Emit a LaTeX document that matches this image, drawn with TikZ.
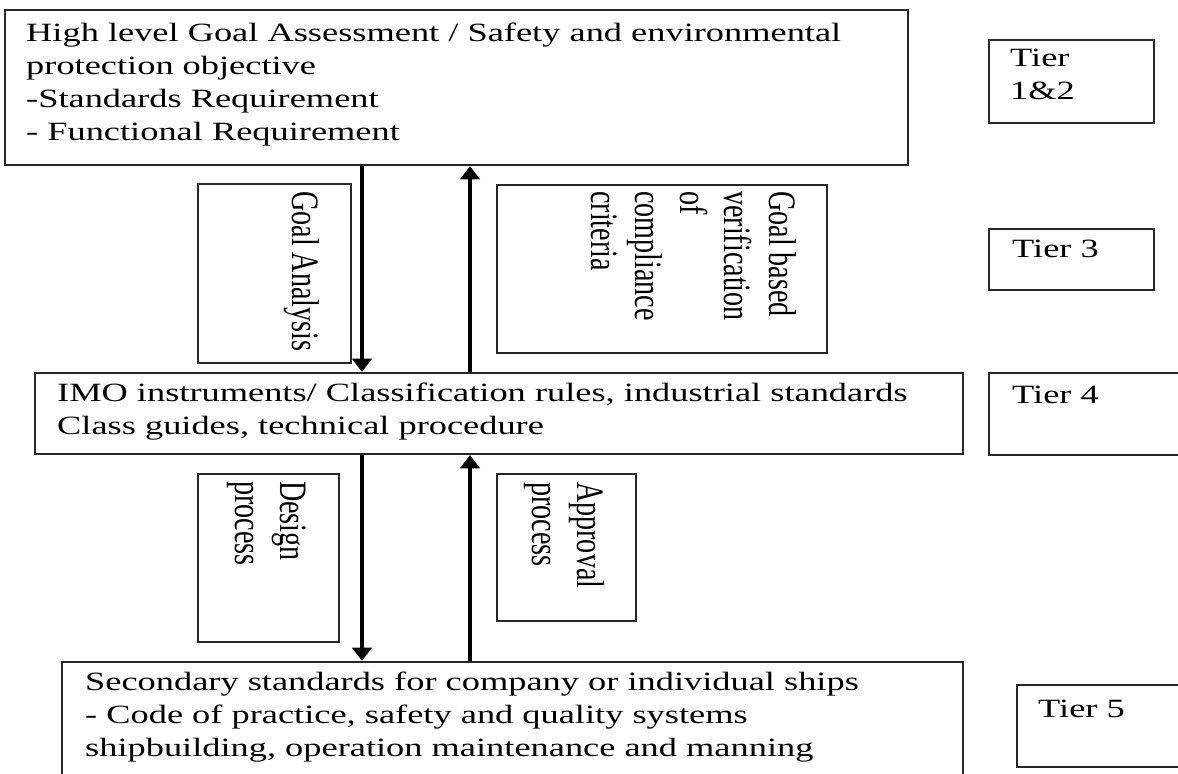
\documentclass[tikz,border=0pt]{standalone}
\usepackage{fontspec}
\setmainfont{Liberation Serif}[FakeStretch=1.38]
\newfontfamily\sideserif{Liberation Serif}
\usepackage{graphicx}
\usetikzlibrary{arrows.meta,fit}

\newcommand{\sidetext}[1]{\scalebox{1.38}[1]{\rotatebox{-90}{\sideserif\fontsize{16}{18.4}\selectfont\begin{tabular}{@{}l@{}}#1\end{tabular}}}}

\begin{document}
\begin{tikzpicture}[x=0.02cm, y=-0.02cm,
    frame/.style={draw=black!85, line width=1.3pt, inner sep=0pt},
    body/.style={anchor=north west, inner sep=0pt, align=left, font=\fontsize{15}{18.8}\selectfont},
    side/.style={anchor=north east, inner sep=0pt},
    flow/.style={line width=2.8pt, -{Triangle[length=7.5pt, width=11pt]}}]
    \path[use as bounding box, clip] (0,0) rectangle (1178,774);

    \node[frame, fit={(5,10) (908,165)}] (goal) {};
    \node[frame, fit={(35,373) (963,454)}] (imo) {};
    \node[frame, fit={(62,662) (963,800)}] (ship) {};

    \node[body] (goalText) at ([shift={(22,14)}]goal.north west) {High level Goal Assessment / Safety and environmental\\protection objective\\-Standards Requirement\\- Functional Requirement};
    \node[body] (imoText) at ([shift={(23,11)}]imo.north west) {IMO instruments/ Classification rules, industrial standards\\Class guides, technical procedure};
    \node[body] (shipText) at ([shift={(24,11)}]ship.north west) {Secondary standards for company or individual ships\\- Code of practice, safety and quality systems\\shipbuilding, operation maintenance and manning};

    \node[frame, fit={(989,40) (1154,123)}] (tierA) {};
    \node[frame, fit={(989,229) (1154,290)}] (tierB) {};
    \node[frame, fit={(989,373) (1200,455)}] (tierC) {};
    \node[frame, fit={(1017,685) (1200,767)}] (tierD) {};

    \node[body] (tierAText) at ([shift={(22,10)}]tierA.north west) {Tier\\1\&2};
    \node[body] (tierBText) at ([shift={(24,12)}]tierB.north west) {Tier 3};
    \node[body] (tierCText) at ([shift={(24,14)}]tierC.north west) {Tier 4};
    \node[body] (tierDText) at ([shift={(22,16)}]tierD.north west) {Tier 5};

    \node[frame, fit={(198,184) (351,363)}] (analysis) {};
    \node[frame, fit={(497,185) (827,353)}] (verify) {};
    \node[frame, fit={(198,474) (339,642)}] (design) {};
    \node[frame, fit={(497,474) (636,621)}] (approval) {};

    \node[side] (analysisText) at ([shift={(-28,8)}]analysis.north east) {\sidetext{Goal Analysis}};
    \node[side] (verifyText) at ([shift={(-27,7)}]verify.north east) {\sidetext{Goal based\\verification\\of\\compliance\\criteria}};
    \node[side] (designText) at ([shift={(-28,8)}]design.north east) {\sidetext{Design\\process}};
    \node[side] (approvalText) at ([shift={(-28,9)}]approval.north east) {\sidetext{Approval\\process}};

    \coordinate (downX) at (362,0);
    \coordinate (upX) at (470,0);

    \draw[flow] (downX |- goal.south) -- (downX |- imo.north);
    \draw[flow] (upX |- imo.north) -- (upX |- goal.south);
    \draw[flow] (downX |- imo.south) -- (downX |- ship.north);
    \draw[flow] (upX |- ship.north) -- (upX |- imo.south);
\end{tikzpicture}
\end{document}
